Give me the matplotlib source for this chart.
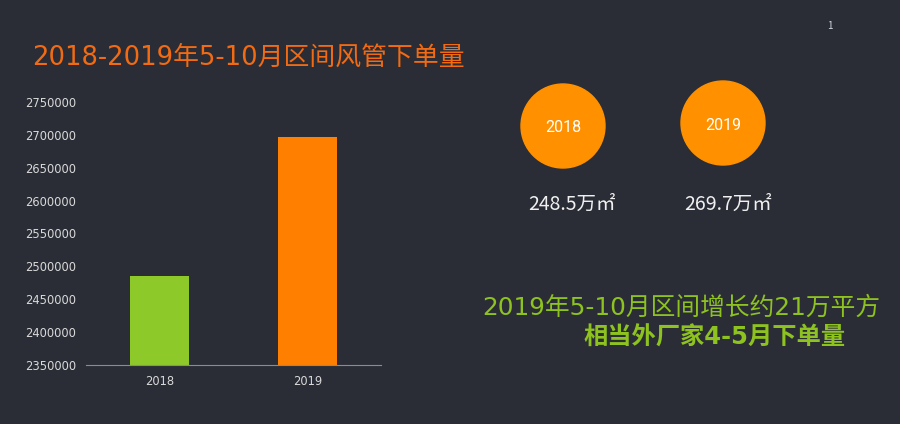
import matplotlib.pyplot as plt
from matplotlib.patches import Circle

years = ["2018", "2019"]
volumes = [2485000, 2697000]
area_labels = ["248.5万㎡", "269.7万㎡"]
y_ticks = [2350000, 2400000, 2450000, 2500000, 2550000, 2600000, 2650000, 2700000, 2750000]

title = "2018-2019年5-10月区间风管下单量"
note_line1 = "2019年5-10月区间增长约21万平方"
note_line2 = "相当外厂家4-5月下单量"

bg = "#2a2d36"
bar_colors = ["#8ec92a", "#ff7f00"]
circle_color = "#ff9100"
green_text = "#8dc21f"
orange_text = "#f26b12"

plt.rcParams["font.family"] = ["Noto Sans CJK SC", "DejaVu Sans"]
# wide latin digits first, CJK falls through to Noto
mixed = ["DejaVu Sans", "Noto Sans CJK SC"]

fig = plt.figure(figsize=(9, 4.24), dpi=100, facecolor=bg)

# bar chart on the left
ax = fig.add_axes([0.0956, 0.1392, 0.328, 0.6202])
ax.set_facecolor(bg)
ax.bar(range(len(years)), volumes, width=0.4, color=bar_colors)
ax.set_xlim(-0.5, 1.5)
ax.set_ylim(y_ticks[0], y_ticks[-1])
ax.set_yticks(y_ticks)
ax.set_yticklabels([str(v) for v in y_ticks], family="DejaVu Sans", fontsize=8.3, color="#d9d9d9")
ax.set_xticks(range(len(years)))
ax.set_xticklabels(years, family="DejaVu Sans", fontsize=8.3, color="#d9d9d9")
ax.tick_params(length=0, pad=7)
for s in ["top", "right", "left"]:
    ax.spines[s].set_visible(False)
ax.spines["bottom"].set_color("#8c8c8c")

# overlay in pixel coordinates for the rest
ov = fig.add_axes([0, 0, 1, 1])
ov.set_xlim(0, 900)
ov.set_ylim(424, 0)
ov.axis("off")
ov.patch.set_alpha(0)

ov.text(32, 58, title, family=mixed, fontsize=18.6, color=orange_text, va="center", ha="left")
ov.text(830, 26, "1", fontsize=7, color="#d0d8e0", ha="center", va="center")

circle_pos = [(563, 126), (723, 123)]
label_x = [572, 728]
for (cx, cy), yr, lx, lab in zip(circle_pos, years, label_x, area_labels):
    ov.add_patch(Circle((cx, cy), 42, color=circle_color))
    ov.text(cx, cy + 2, yr, family="Roboto", fontsize=11.5, color="white", ha="center", va="center")
    ov.text(lx, 204, lab, fontsize=14, color="#f0f0f0", ha="center", va="center")

ov.text(681, 308, note_line1, family=mixed, fontsize=17.8, color=green_text, ha="center", va="center")
ov.text(714, 338, note_line2, family=mixed, fontsize=17.5, color=green_text, ha="center", va="center", weight="bold")

fig.savefig("out.png", dpi=100, facecolor=bg)
